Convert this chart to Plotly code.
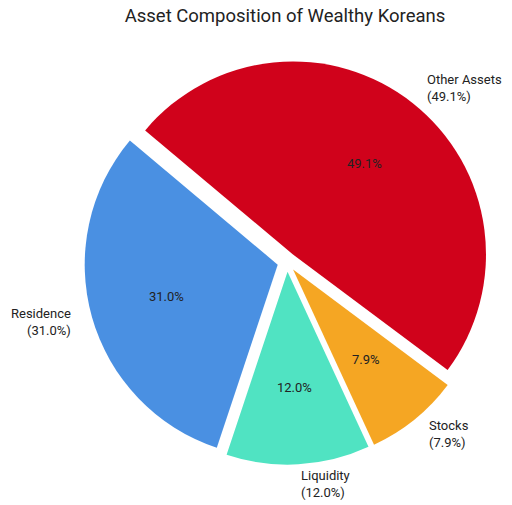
import math
import plotly.graph_objects as go

# Asset composition data
labels = ["Residence", "Liquidity", "Stocks", "Other Assets"]
shares = [31.0, 12.0, 7.9, 49.1]
colors = ["#4A90E2", "#50E3C2", "#F5A623", "#D0021B"]

# Figure / pie geometry (pixels); the page body adds an 8px margin,
# so positions are given relative to the figure, 8px up-left of the screen
W, H = 512, 505
CX, CY = 279, 254  # pie centre
R = 193  # pie radius
EXPLODE = 0.05
START = 140  # degrees, counterclockwise from 3 o'clock
TEXT_COLOR = "#222222"
FONT = "Roboto"

# plotly's domain gives r = min(w, h) / (2 + 2 * pull)
half = R * (1 + EXPLODE)
domain = dict(
    x=[(CX - half) / W, (CX + half) / W],
    y=[1 - (CY + half) / H, 1 - (CY - half) / H],
)

total = sum(shares)
# with counterclockwise direction plotly anchors the end of the first slice
rotation = -(START - 90) - 360 * shares[0] / total

fig = go.Figure(
    go.Pie(
        labels=labels,
        values=shares,
        sort=False,
        direction="counterclockwise",
        rotation=rotation,
        pull=[EXPLODE] * len(labels),
        marker=dict(colors=colors, line=dict(width=0)),
        textinfo="none",
        domain=domain,
        showlegend=False,
        hoverinfo="label+percent",
    )
)


def to_paper(dist, angle):
    a = math.radians(angle)
    return (CX + dist * math.cos(a)) / W, 1 - (CY - dist * math.sin(a)) / H


annotations = []
cum = 0.0
for lab, v in zip(labels, shares):
    mid = START + 360 * (cum + v / 2) / total
    cum += v
    # percentage inside the slice
    px, py = to_paper(R * (0.6 + EXPLODE), mid)
    annotations.append(
        dict(
            x=px, y=py, xref="paper", yref="paper",
            text=f"{v:.1f}%", showarrow=False,
            xanchor="center", yanchor="middle",
            font=dict(family=FONT, size=13, color=TEXT_COLOR),
        )
    )
    # label outside the slice
    lx, ly = to_paper(R * (1.1 + EXPLODE), mid)
    side = "left" if math.cos(math.radians(mid)) > 0 else "right"
    annotations.append(
        dict(
            x=lx, y=ly, xref="paper", yref="paper",
            text=f"{lab}<br>({v:.1f}%)", showarrow=False,
            xanchor=side, yanchor="middle", align=side,
            font=dict(family=FONT, size=13, color=TEXT_COLOR),
        )
    )

fig.update_layout(
    title=dict(
        text="Asset Composition of Wealthy Koreans",
        x=0.541,
        xanchor="center",
        y=0.986,
        yanchor="middle",
        font=dict(family=FONT, size=18.5, color=TEXT_COLOR),
    ),
    annotations=annotations,
    width=W,
    height=H,
    margin=dict(l=0, r=0, t=0, b=0),
    paper_bgcolor="white",
    plot_bgcolor="white",
    font=dict(family=FONT, color=TEXT_COLOR),
)

fig.write_html("out.html")
